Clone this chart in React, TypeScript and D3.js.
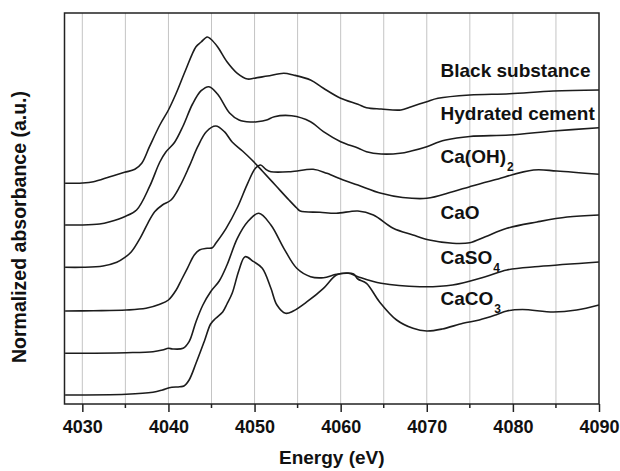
import { useEffect, useRef } from "react"
import * as d3 from "d3"

type Pt = [number, number]

// Stacked Ca K-edge spectra: [energy (eV), normalized absorbance + offset (a.u.)]
const blackSubstance: Pt[] = [
  [4028, 2.207], [4030, 2.21], [4031.3, 2.223], [4033.2, 2.273], [4034.9, 2.317],
  [4036.1, 2.347], [4036.9, 2.407], [4037.8, 2.573], [4039, 2.79], [4040, 2.94],
  [4040.9, 3.107], [4042, 3.34], [4043.2, 3.573], [4043.8, 3.62], [4044.5, 3.67],
  [4044.9, 3.65], [4045.7, 3.573], [4046.8, 3.423], [4048, 3.307], [4049.2, 3.25],
  [4049.9, 3.257], [4051.5, 3.28], [4053.4, 3.307], [4054.5, 3.29], [4056.5, 3.24],
  [4058, 3.157], [4060, 3.057], [4062, 2.997], [4063, 2.963], [4064.7, 2.95],
  [4067, 2.94], [4068.2, 2.973], [4070, 3.023], [4071.3, 3.057], [4075, 3.09],
  [4079.6, 3.103], [4084.7, 3.13], [4090, 3.14],
]

const hydratedCement: Pt[] = [
  [4028, 1.79], [4029.8, 1.79], [4032, 1.8], [4033.2, 1.823], [4034.9, 1.873],
  [4036.3, 1.94], [4037.8, 2.173], [4039, 2.42], [4039.7, 2.52], [4040.7, 2.615],
  [4041.7, 2.78], [4042.8, 3.0], [4043.8, 3.133], [4044.7, 3.173], [4045.7, 3.1],
  [4047.1, 2.91], [4048.2, 2.84], [4049.5, 2.82], [4050.3, 2.823], [4051.4, 2.84],
  [4052.3, 2.873], [4054.3, 2.882], [4056.5, 2.823], [4058, 2.723], [4060, 2.623],
  [4062, 2.56], [4063, 2.523], [4064.7, 2.5], [4066.9, 2.507], [4068.2, 2.53],
  [4070, 2.573], [4071.3, 2.617], [4072.2, 2.64], [4075, 2.675], [4079.6, 2.69],
  [4084.7, 2.73], [4090, 2.763],
]

const caOH2: Pt[] = [
  [4028, 0.93], [4031.3, 0.933], [4035.1, 0.94], [4037.4, 0.957], [4039, 0.997],
  [4040, 1.04], [4040.9, 1.14], [4041.5, 1.24], [4042.2, 1.357], [4043, 1.49],
  [4043.6, 1.54], [4044.5, 1.557], [4045.1, 1.563], [4045.5, 1.607], [4046.7, 1.757],
  [4048, 1.965], [4049.2, 2.207], [4050.1, 2.357], [4050.7, 2.39], [4051.3, 2.347],
  [4051.9, 2.323], [4054.2, 2.323], [4056.8, 2.347], [4058.4, 2.307], [4060.3, 2.24],
  [4062, 2.19], [4064.7, 2.107], [4067.2, 2.065], [4070, 2.057], [4073, 2.123],
  [4075, 2.173], [4077.8, 2.24], [4082.4, 2.34], [4085.1, 2.33], [4090, 2.297],
]

const caO: Pt[] = [
  [4028, 1.367], [4030, 1.367], [4032.4, 1.38], [4034, 1.417], [4034.9, 1.463],
  [4035.7, 1.523], [4036.7, 1.657], [4037.6, 1.807], [4038.4, 1.923], [4039.3, 1.99],
  [4040.3, 2.04], [4041.3, 2.173], [4042.4, 2.373], [4043.4, 2.573], [4044.4, 2.723],
  [4045.5, 2.78], [4046.5, 2.723], [4047.4, 2.62], [4048.6, 2.53], [4049.7, 2.44],
  [4050.9, 2.33], [4052.4, 2.19], [4054, 2.04], [4054.9, 1.96], [4055.3, 1.93],
  [4057.6, 1.917], [4059.5, 1.907], [4062, 1.93], [4063.8, 1.89], [4066.1, 1.757],
  [4068.4, 1.69], [4070.3, 1.64], [4073, 1.607], [4075, 1.613], [4076.8, 1.673],
  [4079.3, 1.757], [4082.8, 1.82], [4086.3, 1.87], [4090, 1.89],
]

const caSO4: Pt[] = [
  [4028, 0.507], [4035.1, 0.513], [4038.2, 0.523], [4039.3, 0.54], [4040, 0.557],
  [4040.5, 0.55], [4041.7, 0.557], [4042.4, 0.623], [4043.2, 0.823], [4044, 0.99],
  [4044.9, 1.123], [4045.9, 1.23], [4046.8, 1.39], [4048, 1.657], [4049.2, 1.823],
  [4050.5, 1.907], [4051.9, 1.79], [4053.4, 1.557], [4054.9, 1.357], [4056.5, 1.273],
  [4058, 1.263], [4059.5, 1.297], [4060.9, 1.307], [4062, 1.273], [4064.7, 1.207],
  [4069.2, 1.173], [4073, 1.19], [4076.8, 1.273], [4079.3, 1.34], [4083, 1.375],
  [4090, 1.42],
]

const caCO3: Pt[] = [
  [4028, 0.09], [4035.1, 0.097], [4038.2, 0.117], [4039.3, 0.14], [4040.1, 0.163],
  [4041.3, 0.173], [4041.8, 0.18], [4042.4, 0.24], [4043.2, 0.407], [4044.2, 0.635],
  [4044.9, 0.8], [4045.5, 0.857], [4046.3, 0.92], [4046.8, 1.0], [4047.4, 1.107],
  [4048.2, 1.34], [4048.9, 1.473], [4049.9, 1.423], [4050.9, 1.357], [4051.9, 1.157],
  [4052.6, 0.99], [4053.6, 0.907], [4054.5, 0.93], [4056.1, 1.023], [4058, 1.157],
  [4059.5, 1.29], [4060.7, 1.31], [4061.5, 1.3], [4062, 1.25], [4063, 1.207],
  [4064.5, 1.023], [4066.5, 0.84], [4068.4, 0.757], [4070, 0.73], [4071.8, 0.75],
  [4074.2, 0.807], [4076.1, 0.84], [4078, 0.89], [4079.3, 0.93], [4081.1, 0.945],
  [4084.7, 0.92], [4087.4, 0.94], [4090, 0.99],
]

const allSeries = [blackSubstance, hydratedCement, caOH2, caO, caSO4, caCO3]

const labelNames = ["Black substance", "Hydrated cement", "Ca(OH)", "CaO", "CaSO", "CaCO"]
const labelSubs = ["", "", "2", "", "4", "3"]

const majorTicks = [4030, 4040, 4050, 4060, 4070, 4080, 4090]
const gridTicks = [4030, 4035, 4040, 4045, 4050, 4055, 4060, 4065, 4070, 4075, 4080, 4085]

const xDomain: [number, number] = [4027.93, 4090]
const yDomain: [number, number] = [0, 3.91]

export default function App() {
  const svgRef = useRef<SVGSVGElement>(null)

  useEffect(() => {
    if (!svgRef.current) return

    const svg = d3.select(svgRef.current)
    svg.selectAll("*").remove()

    const width = 620
    const height = 471
    const margin = { top: 13, right: 21, bottom: 67, left: 64.5 }
    const font = "'Liberation Sans', Arial, sans-serif"

    svg.attr("width", width).attr("height", height)

    const x = d3.scaleLinear().domain(xDomain).range([margin.left, width - margin.right])
    const y = d3.scaleLinear().domain(yDomain).range([height - margin.bottom, margin.top])

    // vertical grid lines every 5 eV
    svg
      .append("g")
      .selectAll("line")
      .data(gridTicks)
      .enter()
      .append("line")
      .attr("x1", (d) => x(d))
      .attr("x2", (d) => x(d))
      .attr("y1", y(yDomain[0]))
      .attr("y2", y(yDomain[1]))
      .attr("stroke", "#c4c4c4")
      .attr("stroke-width", 1)

    // spectra
    const line = d3
      .line<Pt>()
      .x((d) => x(d[0]))
      .y((d) => y(d[1]))
      .curve(d3.curveCatmullRom.alpha(0.5))

    svg
      .append("g")
      .selectAll("path")
      .data(allSeries)
      .enter()
      .append("path")
      .attr("d", (d) => line(d))
      .attr("fill", "none")
      .attr("stroke", "#1c1c1c")
      .attr("stroke-width", 1.6)
      .attr("stroke-linejoin", "round")

    // frame
    svg
      .append("rect")
      .attr("x", x(xDomain[0]))
      .attr("y", y(yDomain[1]))
      .attr("width", x(xDomain[1]) - x(xDomain[0]))
      .attr("height", y(yDomain[0]) - y(yDomain[1]))
      .attr("fill", "none")
      .attr("stroke", "#222")
      .attr("stroke-width", 1.5)

    // bottom axis: major ticks with labels, minor ticks between
    const xAxis = d3
      .axisBottom(x)
      .tickValues(majorTicks)
      .tickSize(8)
      .tickPadding(8)
      .tickFormat(d3.format("d"))

    const axisG = svg
      .append("g")
      .attr("transform", `translate(0,${y(yDomain[0])})`)
      .call(xAxis)
    axisG.select(".domain").remove()
    axisG.selectAll("line").attr("stroke", "#222").attr("stroke-width", 1.5)
    axisG
      .selectAll("text")
      .attr("fill", "#111")
      .style("font-family", font)
      .style("font-size", "18px")
      .style("font-weight", "bold")

    svg
      .append("g")
      .selectAll("line")
      .data(gridTicks.filter((d) => d % 10 !== 0))
      .enter()
      .append("line")
      .attr("x1", (d) => x(d))
      .attr("x2", (d) => x(d))
      .attr("y1", y(yDomain[0]))
      .attr("y2", y(yDomain[0]) + 4)
      .attr("stroke", "#222")
      .attr("stroke-width", 1.5)

    // series labels
    const labelX = 4071.6
    const labelY = [3.275, 2.845, 2.41, 1.855, 1.405, 0.995]
    labelNames.forEach((name, i) => {
      const t = svg
        .append("text")
        .attr("x", x(labelX))
        .attr("y", y(labelY[i]))
        .style("font-family", font)
        .style("font-size", "19px")
        .style("font-weight", "bold")
        .attr("fill", "#111")
        .text(name)
      if (labelSubs[i]) {
        t.append("tspan")
          .attr("dx", 1)
          .attr("dy", 8)
          .style("font-size", "12px")
          .text(labelSubs[i])
      }
    })

    // axis titles
    svg
      .append("text")
      .attr("x", (x(xDomain[0]) + x(xDomain[1])) / 2)
      .attr("y", 464)
      .attr("text-anchor", "middle")
      .style("font-family", font)
      .style("font-size", "19px")
      .style("font-weight", "bold")
      .attr("fill", "#111")
      .text("Energy (eV)")

    svg
      .append("text")
      .attr("transform", "translate(26,227) rotate(-90)")
      .attr("text-anchor", "middle")
      .style("font-family", font)
      .style("font-size", "19.5px")
      .style("font-weight", "bold")
      .attr("fill", "#111")
      .text("Normalized absorbance (a.u.)")
  }, [])

  return (
    <div style={{ position: "absolute", left: 0, top: 0, background: "#fff" }}>
      <svg ref={svgRef} style={{ display: "block" }}></svg>
    </div>
  )
}
